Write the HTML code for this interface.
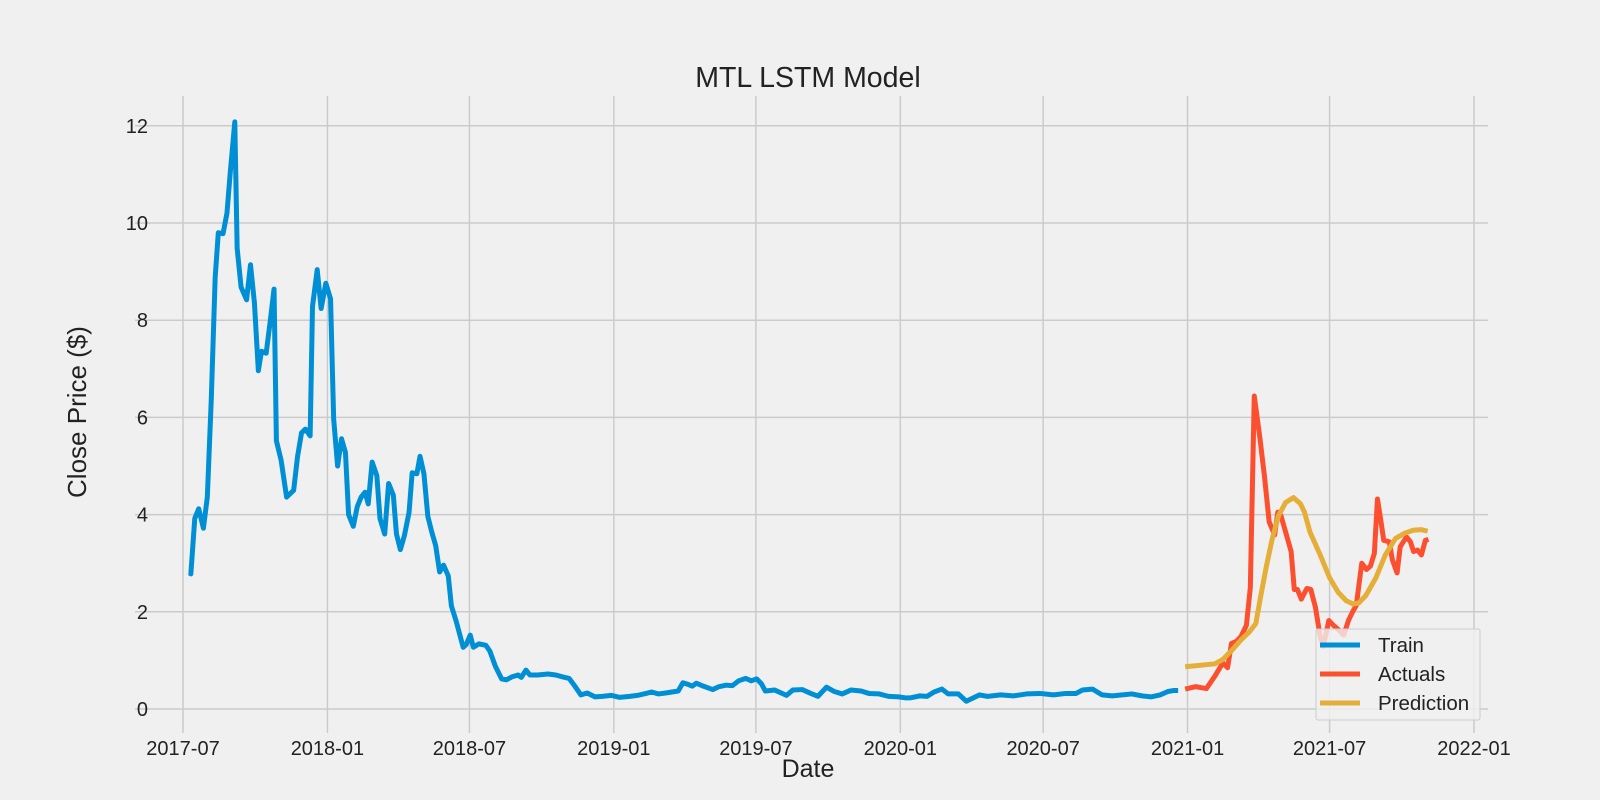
<!DOCTYPE html>
<html><head><meta charset="utf-8"><style>
body{margin:0;background:#f0f0f0;}
svg{display:block;font-family:"Liberation Sans","DejaVu Sans",sans-serif;}
</style></head><body>
<svg id="chart" width="1600" height="800" viewBox="0 0 1600 800" xmlns="http://www.w3.org/2000/svg">
<rect x="0" y="0" width="1600" height="800" fill="#f0f0f0"/>
<g id="grid"></g>
<g id="series"></g>
<g id="ticks"></g>
<text x="808" y="87" text-anchor="middle" font-size="28.5" fill="#222">MTL LSTM Model</text>
<text x="808" y="777" text-anchor="middle" font-size="25" fill="#222">Date</text>
<text x="86" y="412" text-anchor="middle" font-size="26" fill="#222" transform="rotate(-90 86 412)">Close Price ($)</text>
<g id="legend">
<rect x="1316" y="629" width="164" height="91" fill="rgba(240,240,240,0.8)" stroke="#cccccc" stroke-width="1" rx="2"/>
<line x1="1320" y1="645" x2="1360" y2="645" stroke="#008fd5" stroke-width="5"/>
<text x="1378" y="652" font-size="20.5" fill="#222">Train</text>
<line x1="1320" y1="674" x2="1360" y2="674" stroke="#fc4f30" stroke-width="5"/>
<text x="1378" y="681" font-size="20.5" fill="#222">Actuals</text>
<line x1="1320" y1="703" x2="1360" y2="703" stroke="#e5ae38" stroke-width="5"/>
<text x="1378" y="710" font-size="20.5" fill="#222">Prediction</text>
</g>
</svg>
<script>
// days since 2017-07-01
const trainDays=[8,10,15,20,26,31,36,41,45,51,56,60,66,69,74,81,86,91,96,100,106,111,116,119,125,132,141,146,151,156,162,165,171,176,182,188,192,197,202,207,211,217,222,227,232,236,241,247,251,257,262,268,272,277,282,288,292,298,302,307,312,317,322,327,332,338,342,348,357,361,366,370,377,386,391,398,406,412,419,427,431,437,442,452,465,475,484,492,498,507,515,525,534,546,556,569,579,590,597,606,615,623,631,637,643,649,654,663,675,683,692,700,708,717,724,731,737,742,754,769,777,789,800,809,820,830,840,851,864,874,887,899,912,920,927,939,948,957,967,975,988,998,1015,1025,1042,1058,1075,1092,1109,1125,1138,1146,1159,1171,1184,1197,1209,1222,1234,1245,1255,1262,1268];
const trainVals=[2.8,2.78,3.92,4.12,3.72,4.36,6.36,8.88,9.8,9.78,10.2,11,12.08,9.48,8.68,8.42,9.14,8.36,6.96,7.36,7.32,7.96,8.64,5.52,5.12,4.36,4.5,5.2,5.68,5.76,5.62,8.28,9.04,8.24,8.76,8.44,5.96,5.0,5.56,5.28,4.0,3.76,4.16,4.36,4.46,4.22,5.08,4.8,3.92,3.6,4.64,4.4,3.6,3.28,3.56,4.04,4.86,4.84,5.2,4.84,3.96,3.64,3.36,2.82,2.96,2.74,2.12,1.81,1.27,1.33,1.52,1.27,1.34,1.31,1.19,0.88,0.62,0.6,0.66,0.7,0.65,0.8,0.7,0.7,0.72,0.7,0.66,0.63,0.5,0.29,0.33,0.25,0.26,0.28,0.24,0.26,0.28,0.32,0.35,0.31,0.33,0.35,0.37,0.54,0.51,0.47,0.53,0.47,0.4,0.46,0.49,0.48,0.58,0.63,0.58,0.62,0.52,0.37,0.39,0.28,0.39,0.4,0.32,0.26,0.45,0.36,0.31,0.39,0.37,0.32,0.31,0.26,0.25,0.23,0.23,0.27,0.26,0.35,0.41,0.31,0.31,0.16,0.29,0.26,0.29,0.27,0.31,0.32,0.29,0.32,0.32,0.39,0.41,0.29,0.27,0.29,0.31,0.27,0.25,0.29,0.36,0.38,0.38,0.38];
const actDays=[1277,1290,1304,1315,1325,1331,1336,1342,1348,1355,1360,1365,1372,1378,1384,1391,1395,1399,1405,1412,1416,1420,1425,1432,1437,1443,1449,1453,1460,1466,1473,1479,1485,1490,1495,1502,1508,1513,1518,1522,1526,1530,1537,1541,1547,1551,1559,1564,1568,1573,1578,1583,1587];
const actVals=[0.41,0.46,0.42,0.68,0.95,0.85,1.35,1.39,1.49,1.72,2.5,6.44,5.6,4.79,3.85,3.58,4.05,3.98,3.64,3.24,2.46,2.46,2.26,2.48,2.46,2.09,1.49,1.29,1.82,1.72,1.62,1.52,1.82,1.99,2.13,3.0,2.87,2.94,3.2,4.32,3.91,3.47,3.44,3.07,2.8,3.34,3.54,3.44,3.24,3.27,3.17,3.47,3.49];
const predDays=[1277,1315,1325,1336,1348,1359,1367,1373,1380,1388,1396,1405,1415,1424,1429,1436,1449,1461,1472,1482,1491,1498,1507,1520,1532,1545,1557,1568,1578,1586];
const predVals=[0.87,0.93,1.02,1.2,1.42,1.59,1.76,2.3,2.9,3.51,3.98,4.25,4.35,4.22,4.05,3.64,3.17,2.7,2.4,2.23,2.16,2.18,2.33,2.7,3.17,3.51,3.62,3.68,3.69,3.66];
const xTickDays=[0,184,365,549,730,914,1096,1280,1461,1645];
const xTickLabels=["2017-07","2018-01","2018-07","2019-01","2019-07","2020-01","2020-07","2021-01","2021-07","2022-01"];
const yTicks=[0,2,4,6,8,10,12];

const NS="http://www.w3.org/2000/svg";
const x=d=>183+d*(1474-183)/1645;
const y=v=>709-v*48.6;
const L=135,R=1488,T=96,B=733;
const grid=document.getElementById('grid'),ticks=document.getElementById('ticks'),series=document.getElementById('series');
function mk(tag,attrs,parent){const e=document.createElementNS(NS,tag);for(const k in attrs)e.setAttribute(k,attrs[k]);parent.appendChild(e);return e;}
xTickDays.forEach((d,i)=>{
  const g=mk('line',{x1:x(d),x2:x(d),y1:T,y2:B,stroke:'#cbcbcb','stroke-width':1.5},grid);
  
  
  const t=mk('text',{x:x(d),y:755,'text-anchor':'middle','font-size':20,fill:'#222'},ticks);
  t.textContent=xTickLabels[i];
  
  
});
yTicks.forEach(v=>{
  const g=mk('line',{x1:L,x2:R,y1:y(v),y2:y(v),stroke:'#cbcbcb','stroke-width':1.5},grid);
  
  
  const t=mk('text',{x:148,y:y(v)+7,'text-anchor':'end','font-size':20,fill:'#222'},ticks);
  t.textContent=v;
  
  
});
function line(days,vals,color,name){
  const p=mk('polyline',{points:days.map((d,i)=>x(d)+','+y(vals[i])).join(' '),fill:'none',stroke:color,'stroke-width':5,'stroke-linejoin':'round'},series);
  
  
}
line(trainDays,trainVals,'#008fd5','train-line');
line(actDays,actVals,'#fc4f30','actuals-line');
line(predDays,predVals,'#e5ae38','prediction-line');
</script>
</body></html>
